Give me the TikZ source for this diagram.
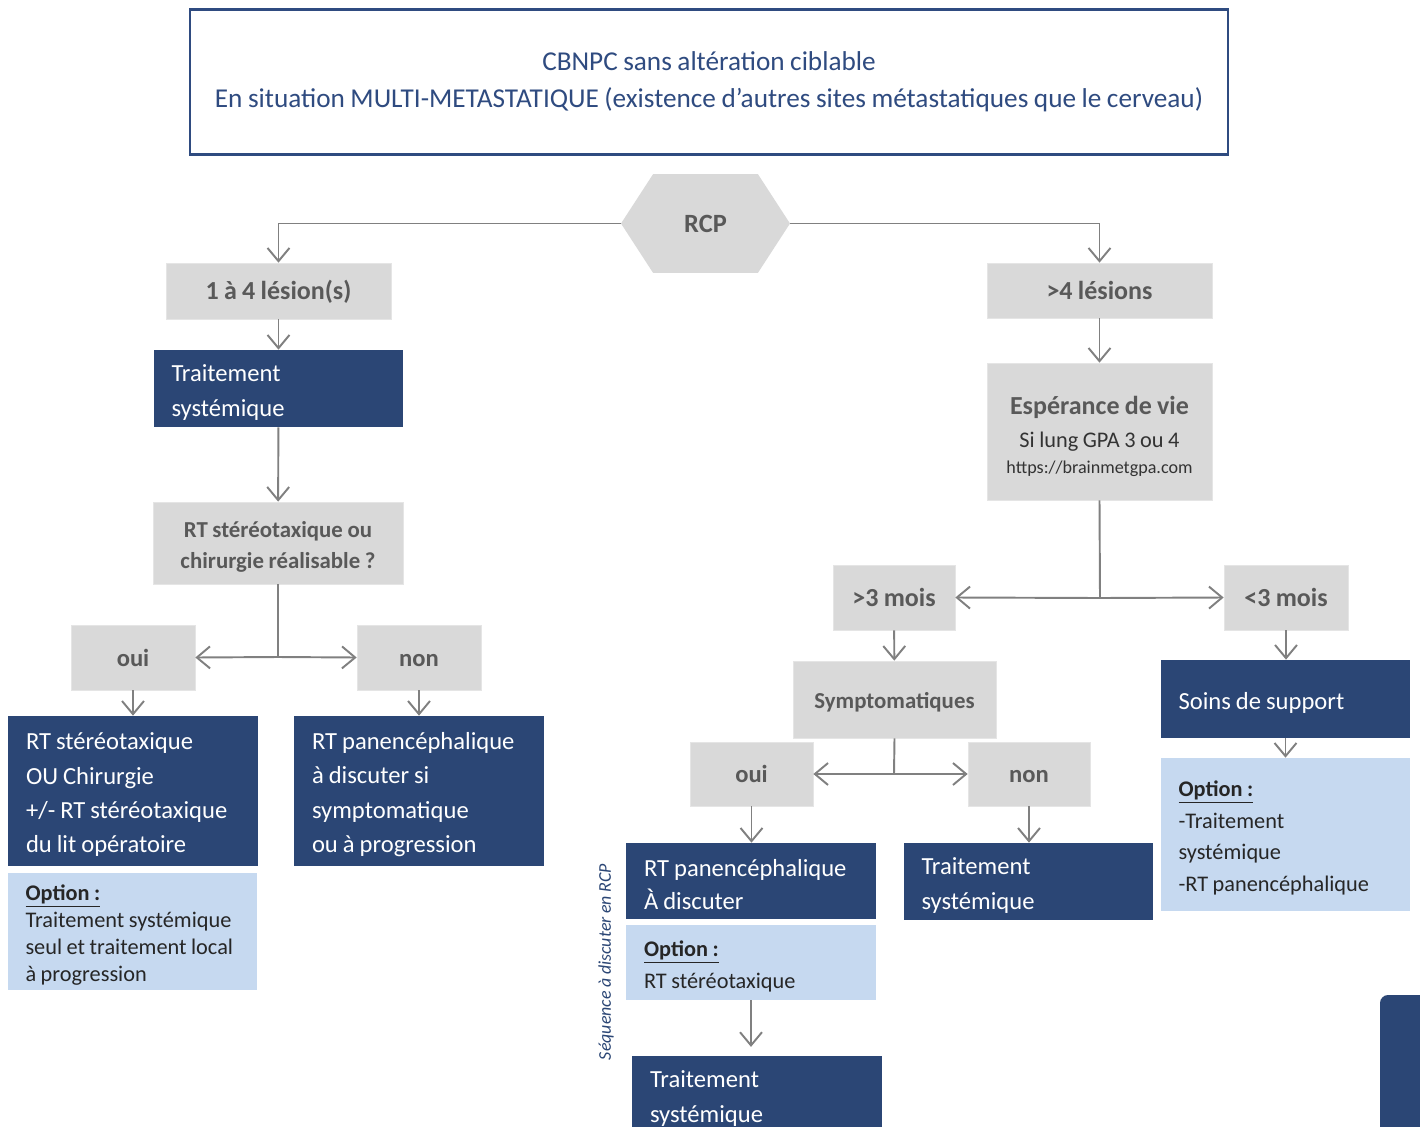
\documentclass[tikz,border=0pt]{standalone}
\usepackage{fontspec}
\setmainfont{Carlito}[WordSpace=0.9]
\usetikzlibrary{arrows.meta,shapes.symbols,positioning}
\definecolor{navy}{RGB}{43,70,117}
\definecolor{titleblue}{RGB}{47,75,128}
\definecolor{greyfill}{RGB}{217,217,217}
\definecolor{greytext}{RGB}{89,89,89}
\definecolor{optfill}{RGB}{198,217,240}
\definecolor{linkgrey}{RGB}{128,128,128}
\newcommand{\topstrut}[1]{\rule{0pt}{#1}\ignorespaces}
\tikzset{
    greybox/.style={
        rectangle,
        draw=white!90!black,
        fill=greyfill,
        text=greytext,
        font=\bfseries\fontsize{14.8}{18}\selectfont,
        align=flush center,
        inner sep=0pt,
    },
    oneline/.style={
        text height=13pt,
        text depth=3pt,
    },
    navybox/.style={
        rectangle,
        fill=navy,
        text=white,
        font=\fontsize{14}{19.6}\selectfont,
        text width=4.28cm,
        align=flush left,
        inner xsep=0.36cm,
        inner ysep=0pt,
        execute at begin node={\topstrut{14pt}},
    },
    optbox/.style={
        rectangle,
        fill=optfill,
        text=black!85,
        font=\fontsize{12.7}{15.5}\selectfont,
        text width=4.5cm,
        align=flush left,
        inner xsep=0.25cm,
        inner ysep=0pt,
        execute at begin node={\leftskip=0.11cm\relax\topstrut{13pt}},
    },
    hexa/.style={
        signal,
        signal to=west and east,
        signal pointer angle=114,
        fill=greyfill,
        text=greytext,
        font=\bfseries\fontsize{15}{18}\selectfont,
        minimum width=3.38cm,
        minimum height=1.98cm,
        inner sep=0pt,
    },
    link/.style={
        draw=linkgrey,
        line width=1.1pt,
    }
}

\begin{document}
\begin{tikzpicture}[x=0.02cm,y=-0.02cm,>={Straight Barb[length=7.5pt,width=12.5pt]}]
    \useasboundingbox (0,0) rectangle (1420,1126);
    \fill[white] (0,0) rectangle (1420,1126);

    % title
    \node [draw=titleblue,line width=1.2pt,minimum width=20.76cm,minimum height=2.9cm,
        text=titleblue,font=\fontsize{15.5}{21}\selectfont,align=center] (title) at (709,82)
        {CBNPC sans altération ciblable\\En situation MULTI-METASTATIQUE (existence d’autres sites métastatiques que le cerveau)};

    \node [hexa] (rcp) at (705.5,223.5) {RCP};

    % branche gauche
    \node [greybox,oneline,minimum width=4.5cm,minimum height=1.12cm] (les1) at (278.5,291) {1 à 4 lésion(s)};
    \node [navybox,minimum height=1.54cm] (trait1) at (278.5,388.5) {Traitement\\systémique};
    \node [greybox,text width=5cm,minimum height=1.64cm,font=\bfseries\fontsize{13}{18}\selectfont,
        execute at begin node={\topstrut{13.5pt}}] (rtq) at (278,543)
        {RT stéréotaxique ou\\chirurgie réalisable ?};
    \node [greybox,oneline,minimum width=2.48cm,minimum height=1.3cm,font=\bfseries\fontsize{14}{18}\selectfont] (oui1) at (133,657.5) {oui};
    \node [greybox,oneline,minimum width=2.48cm,minimum height=1.3cm,font=\bfseries\fontsize{14}{18}\selectfont] (non1) at (419,657.5) {non};
    \node [navybox,minimum height=3cm] (rtst) at (133,791)
        {RT stéréotaxique\\OU Chirurgie\\+/- RT stéréotaxique\\du lit opératoire};
    \node [optbox,minimum height=2.34cm] (opt1) at (132.5,931.5)
        {\underline{\textbf{Option :}}\\Traitement systémique\\seul et traitement local\\à progression};
    \node [navybox,minimum height=3cm] (rtpan1) at (419,791)
        {RT panencéphalique\\à discuter si\\symptomatique\\ou à progression};

    % branche droite
    \node [greybox,oneline,minimum width=4.5cm,minimum height=1.1cm] (les4) at (1099.5,290.5) {>4 lésions};
    \node [greybox,text width=4.5cm,minimum height=2.74cm,font=\fontsize{12.7}{15}\selectfont,text=black!80,
        execute at begin node={\topstrut{16pt}}] (esp) at (1099.5,431.5)
        {{\bfseries\fontsize{14.8}{18}\selectfont\color{greytext}Espérance de vie}\\[3.5pt]
         Si lung GPA 3 ou 4\\
         {\fontsize{10.3}{12}\selectfont https://brainmetgpa.com}};
    \node [greybox,oneline,minimum width=2.44cm,minimum height=1.3cm] (m3p) at (894,597.5) {>3 mois};
    \node [greybox,oneline,minimum width=2.48cm,minimum height=1.3cm] (m3m) at (1286,597.5) {<3 mois};
    \node [greybox,oneline,minimum width=4.06cm,minimum height=1.54cm,font=\bfseries\fontsize{13}{18}\selectfont] (sympt) at (894.5,699.5) {Symptomatiques};
    \node [greybox,oneline,minimum width=2.46cm,minimum height=1.28cm,font=\bfseries\fontsize{14}{18}\selectfont] (oui2) at (751.5,774) {oui};
    \node [greybox,oneline,minimum width=2.44cm,minimum height=1.28cm,font=\bfseries\fontsize{14}{18}\selectfont] (non2) at (1029,774) {non};
    \node [navybox,minimum height=1.52cm,font=\fontsize{14}{18.7}\selectfont] (rtpan2) at (751,881) {RT panencéphalique\\À discuter};
    \node [optbox,minimum height=1.5cm,font=\fontsize{12.7}{18.1}\selectfont] (opt2) at (751,962.5)
        {\underline{\textbf{Option :}}\\RT stéréotaxique};
    \node [navybox,minimum height=1.54cm] (trait3) at (757,1094.5) {Traitement\\systémique};
    \node [navybox,minimum height=1.54cm] (trait2) at (1028.5,881.5) {Traitement\\systémique};
    \node [navybox,minimum height=1.56cm] (soins) at (1285.5,699) {Soins de support};
    \node [optbox,minimum height=3.06cm,font=\fontsize{12.7}{18}\selectfont] (opt3) at (1285.5,834.5)
        {\underline{\textbf{Option :}}\\-Traitement\\systémique\\-RT panencéphalique};
    \node [rotate=90,text=navy,font=\itshape\fontsize{10.2}{12}\selectfont] (seq) at (606,962) {Séquence à discuter en RCP};

    % bord de la diapositive suivante
    \fill [navy,rounded corners=0.16cm] (1380,995) rectangle (1450,1160);

    % liaisons
    \coordinate (f1) at (278,657);
    \coordinate (f2) at (1100,598);
    \coordinate (f3) at (894,774);
    \draw [link,->] (rcp.west) -| (les1.north);
    \draw [link,->] (rcp.east) -| (les4.north);
    \draw [link,->] (les1) -- (trait1);
    \draw [link,->] (trait1) -- (rtq);
    \draw [link] (rtq.south) -- (f1);
    \draw [link,->] (f1) -- (oui1.east);
    \draw [link,->] (f1) -- (non1.west);
    \draw [link,->] (oui1) -- (rtst);
    \draw [link,->] (non1) -- (rtpan1);
    \draw [link,->] (les4) -- (esp);
    \draw [link] (esp.south) -- (f2);
    \draw [link,->] (f2) -- (m3p.east);
    \draw [link,->] (f2) -- (m3m.west);
    \draw [link,->] (m3p) -- (sympt);
    \draw [link] (sympt.south) -- (f3);
    \draw [link,->] (f3) -- (oui2.east);
    \draw [link,->] (f3) -- (non2.west);
    \draw [link,->] (oui2.south) -- (oui2.south |- rtpan2.north);
    \draw [link,->] (non2.south) -- (non2.south |- trait2.north);
    \draw [link,->,shorten >=5pt] (opt2.south) -- (opt2.south |- trait3.north);
    \draw [link,->] (m3m.south) -- (m3m.south |- soins.north);
    \draw [link,->] (soins.south) -- (soins.south |- opt3.north);
\end{tikzpicture}
\end{document}
